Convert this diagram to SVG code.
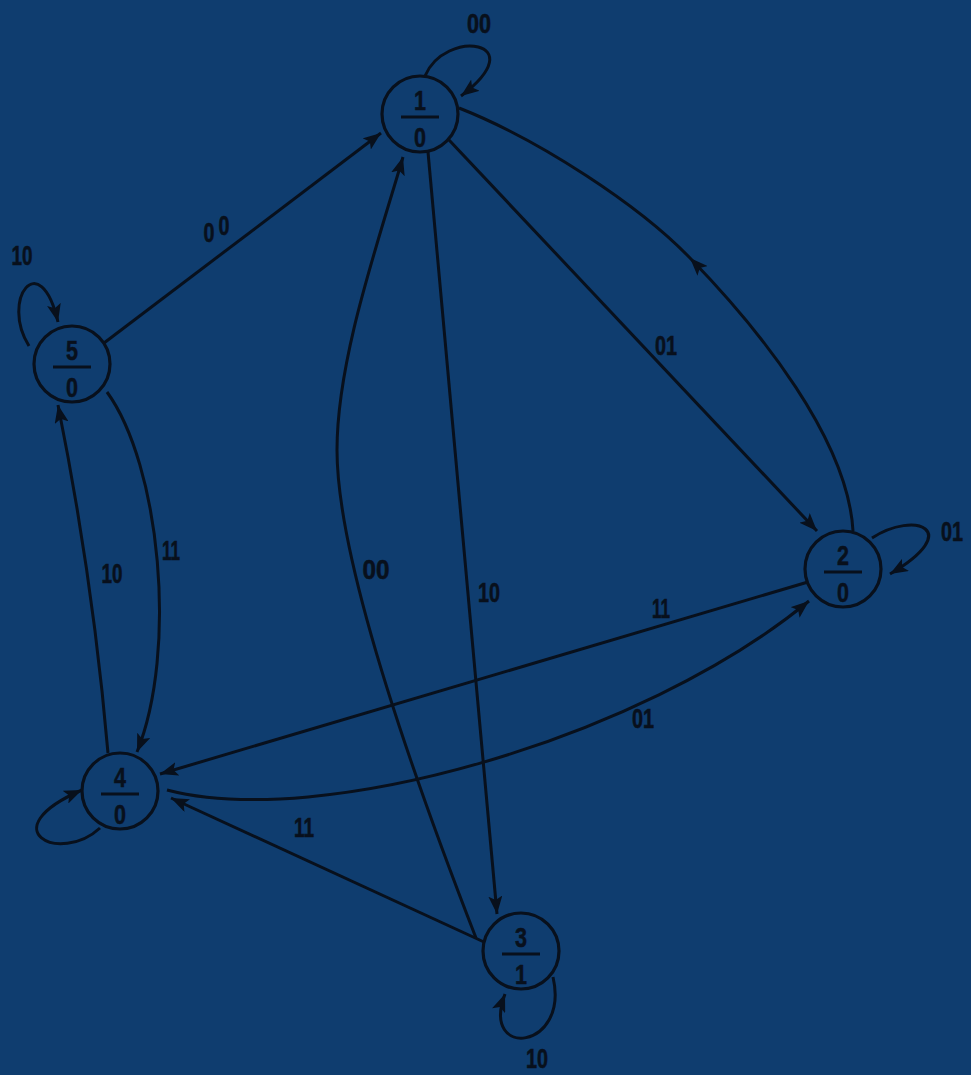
<svg xmlns="http://www.w3.org/2000/svg" width="971" height="1075" viewBox="0 0 971 1075">
<style>
.bg{fill:#0f3d6f}
.n{fill:none;stroke:#08101c;stroke-width:3.2}
.bar{stroke:#08101c;stroke-width:3.2}
.d{font-family:"Liberation Sans",Arial,sans-serif;font-weight:bold;font-size:27px;fill:#08101c;stroke:#08101c;stroke-width:0.5;text-anchor:middle}
.e{fill:none;stroke:#08101c;stroke-width:3}
.l{font-family:"Liberation Sans",Arial,sans-serif;font-weight:bold;font-size:28px;fill:#08101c;stroke:#08101c;stroke-width:0.6;text-anchor:middle}
</style>
<defs>
<marker id="ah" markerUnits="userSpaceOnUse" markerWidth="20" markerHeight="14" refX="18" refY="7" orient="auto">
<path d="M0,0 L18,7 L0,14 L4,7 z" fill="#08101c"/>
</marker>
</defs>
<rect class="bg" x="0" y="0" width="971" height="1075"/>
<g id="connectors">
<path class="e" d="M425,76 C445,28 535,40 461,96" marker-end="url(#ah)"/>
<path class="e" d="M104,343 L381,133" marker-end="url(#ah)"/>
<path class="e" d="M449,140 L817,531" marker-end="url(#ah)"/>
<path class="e" d="M853,531 C848,440 760,330 690,258 C640,206 540,140 459,108" marker-mid="url(#ah)"/>
<path class="e" d="M872,538 C915,510 965,530 890,574" marker-end="url(#ah)"/>
<path class="e" d="M428,152 L497,914" marker-end="url(#ah)"/>
<path class="e" d="M476,938 C410,768 337,560 337,450 C337,360 377,246 403,157" marker-end="url(#ah)"/>
<path class="e" d="M107,392 C160,465 178,650 137,752" marker-end="url(#ah)"/>
<path class="e" d="M108,753 Q93,579 58,405" marker-end="url(#ah)"/>
<path class="e" d="M808,582 L160,774" marker-end="url(#ah)"/>
<path class="e" d="M167,790 C320,830 640,740 809,601" marker-end="url(#ah)"/>
<path class="e" d="M484,942 L171,798" marker-end="url(#ah)"/>
<path class="e" d="M29,346 C0,300 40,245 58,322" marker-end="url(#ah)"/>
<path class="e" d="M100,828 C60,865 -10,830 82,790" marker-end="url(#ah)"/>
<path class="e" d="M553,977 C570,1050 480,1060 505,994" marker-end="url(#ah)"/>
<text class="l" x="479" y="33" textLength="24" lengthAdjust="spacingAndGlyphs">00</text>
<text class="l" x="209" y="242" textLength="11" lengthAdjust="spacingAndGlyphs">0</text>
<text class="l" x="224" y="235" textLength="11" lengthAdjust="spacingAndGlyphs">0</text>
<text class="l" x="666" y="355" textLength="22" lengthAdjust="spacingAndGlyphs">01</text>
<text class="l" x="952" y="541" textLength="22" lengthAdjust="spacingAndGlyphs">01</text>
<text class="l" x="489" y="602" textLength="22" lengthAdjust="spacingAndGlyphs">10</text>
<text class="l" x="376" y="579" textLength="27" lengthAdjust="spacingAndGlyphs">00</text>
<text class="l" x="171" y="560" textLength="18" lengthAdjust="spacingAndGlyphs">11</text>
<text class="l" x="112" y="583" textLength="21" lengthAdjust="spacingAndGlyphs">10</text>
<text class="l" x="661" y="618" textLength="18" lengthAdjust="spacingAndGlyphs">11</text>
<text class="l" x="643" y="728" textLength="22" lengthAdjust="spacingAndGlyphs">01</text>
<text class="l" x="304" y="837" textLength="20" lengthAdjust="spacingAndGlyphs">11</text>
<text class="l" x="537" y="1068" textLength="22" lengthAdjust="spacingAndGlyphs">10</text>
<text class="l" x="22" y="265" textLength="21" lengthAdjust="spacingAndGlyphs">10</text>
</g>
<g id="node1">
<circle class="n" cx="420" cy="114" r="38"/>
<text class="d" x="420" y="110" textLength="12" lengthAdjust="spacingAndGlyphs">1</text>
<line class="bar" x1="401" y1="117" x2="439" y2="117"/>
<text class="d" x="420" y="147" textLength="12" lengthAdjust="spacingAndGlyphs">0</text>
</g>
<g id="node2">
<circle class="n" cx="843" cy="569" r="38"/>
<text class="d" x="843" y="565" textLength="12" lengthAdjust="spacingAndGlyphs">2</text>
<line class="bar" x1="824" y1="572" x2="862" y2="572"/>
<text class="d" x="843" y="602" textLength="12" lengthAdjust="spacingAndGlyphs">0</text>
</g>
<g id="node3">
<circle class="n" cx="521" cy="951" r="38"/>
<text class="d" x="521" y="947" textLength="12" lengthAdjust="spacingAndGlyphs">3</text>
<line class="bar" x1="502" y1="954" x2="540" y2="954"/>
<text class="d" x="521" y="984" textLength="12" lengthAdjust="spacingAndGlyphs">1</text>
</g>
<g id="node4">
<circle class="n" cx="120" cy="791" r="38"/>
<text class="d" x="120" y="787" textLength="12" lengthAdjust="spacingAndGlyphs">4</text>
<line class="bar" x1="101" y1="794" x2="139" y2="794"/>
<text class="d" x="120" y="824" textLength="12" lengthAdjust="spacingAndGlyphs">0</text>
</g>
<g id="node5">
<circle class="n" cx="72" cy="364" r="38"/>
<text class="d" x="72" y="360" textLength="12" lengthAdjust="spacingAndGlyphs">5</text>
<line class="bar" x1="53" y1="367" x2="91" y2="367"/>
<text class="d" x="72" y="397" textLength="12" lengthAdjust="spacingAndGlyphs">0</text>
</g>
</svg>
